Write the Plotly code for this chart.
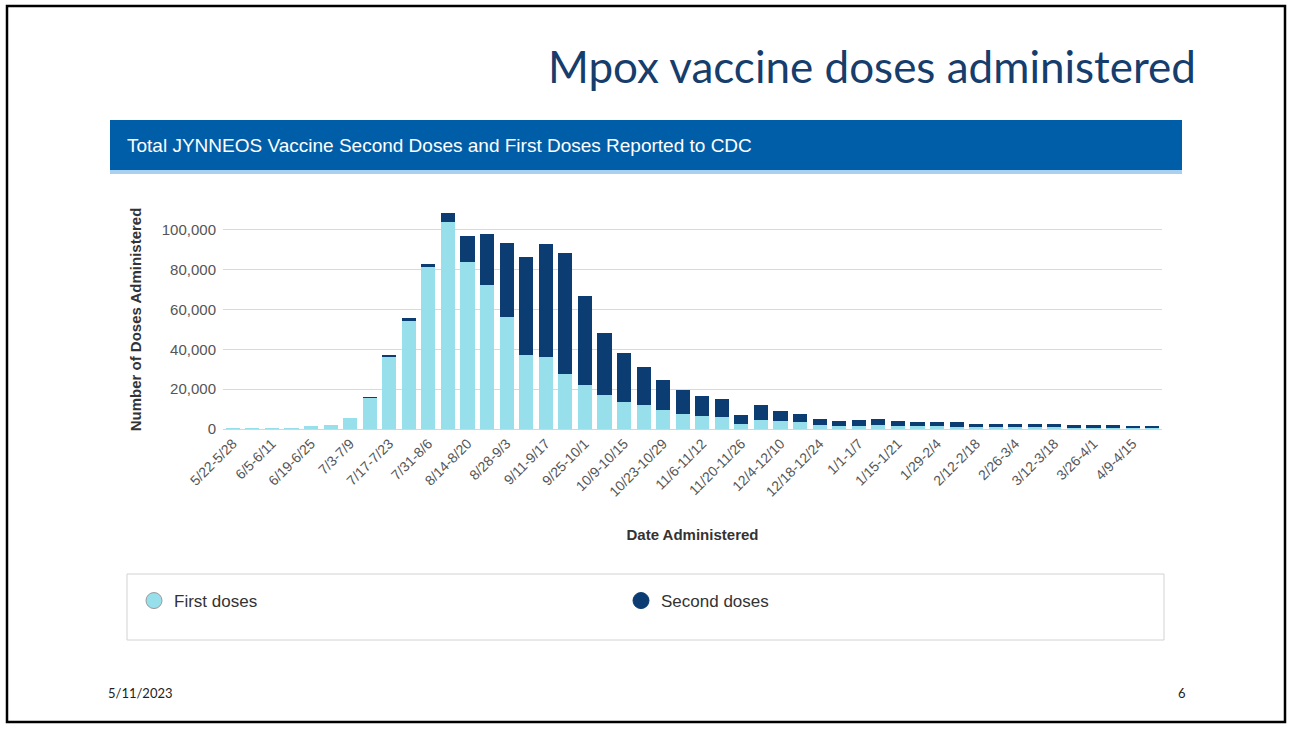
import plotly.graph_objects as go

# ---------------- data ----------------
weeks = [
    "5/22-5/28", "5/29-6/4", "6/5-6/11", "6/12-6/18", "6/19-6/25", "6/26-7/2",
    "7/3-7/9", "7/10-7/16", "7/17-7/23", "7/24-7/30", "7/31-8/6", "8/7-8/13",
    "8/14-8/20", "8/21-8/27", "8/28-9/3", "9/4-9/10", "9/11-9/17", "9/18-9/24",
    "9/25-10/1", "10/2-10/8", "10/9-10/15", "10/16-10/22", "10/23-10/29", "10/30-11/5",
    "11/6-11/12", "11/13-11/19", "11/20-11/26", "11/27-12/3", "12/4-12/10", "12/11-12/17",
    "12/18-12/24", "12/25-12/31", "1/1-1/7", "1/8-1/14", "1/15-1/21", "1/22-1/28",
    "1/29-2/4", "2/5-2/11", "2/12-2/18", "2/19-2/25", "2/26-3/4", "3/5-3/11",
    "3/12-3/18", "3/19-3/25", "3/26-4/1", "4/2-4/8", "4/9-4/15", "4/16-4/22",
]
first_doses = [
    300, 300, 400, 400, 1700, 2200,
    5500, 15900, 36500, 54500, 81300, 104200,
    84100, 72100, 56200, 37100, 36000, 27400,
    21900, 17100, 13700, 12000, 9400, 7700,
    6400, 5900, 2700, 4500, 3900, 3300,
    2200, 1500, 1700, 2200, 1300, 1300,
    1300, 1200, 1100, 1000, 1000, 1000,
    1000, 1000, 1000, 800, 800, 800,
]
second_doses = [
    0, 0, 0, 0, 0, 0,
    0, 100, 500, 1400, 1800, 4500,
    12600, 25700, 37100, 49200, 56800, 61200,
    44700, 30900, 24400, 19100, 15000, 11900,
    10000, 9300, 4300, 7400, 5000, 4400,
    3000, 2700, 2800, 3000, 2700, 2000,
    2000, 2100, 1600, 1300, 1300, 1300,
    1300, 800, 800, 1000, 500, 500,
]
tick_labels = weeks[::2]
y_ticks = [0, 20000, 40000, 60000, 80000, 100000]

# ---------------- layout geometry ----------------
W, H = 1291, 730
L, R, T, B = 223, 129, 210, 301
PW, PH = W - L - R, H - T - B


def px2x(px):
    return (px - L) / PW


def py2y(py):
    return (H - B - py) / PH


C_FIRST = "#97dfeb"
C_SECOND = "#0b3c72"
FONT = "Liberation Sans"

fig = go.Figure()
fig.add_trace(go.Bar(x=weeks, y=first_doses, name="First doses",
                     marker=dict(color=C_FIRST, line=dict(width=0)),
                     showlegend=False))
fig.add_trace(go.Bar(x=weeks, y=second_doses, name="Second doses",
                     marker=dict(color=C_SECOND, line=dict(width=0)),
                     showlegend=False))
# legend entries (circle symbols)
fig.add_trace(go.Scatter(x=[None], y=[None], mode="markers", name="First doses",
                         marker=dict(symbol="circle", size=16, color=C_FIRST,
                                     line=dict(color="#9a9a9a", width=1))))
fig.add_trace(go.Scatter(x=[None], y=[None], mode="markers", name="Second doses",
                         marker=dict(symbol="circle", size=16, color=C_SECOND,
                                     line=dict(color=C_SECOND, width=1))))

shapes = [
    # slide border
    dict(type="rect", xref="paper", yref="paper",
         x0=px2x(7), x1=px2x(1285), y0=py2y(722), y1=py2y(6),
         line=dict(color="#000000", width=2.5), fillcolor="rgba(0,0,0,0)"),
    # header bar
    dict(type="rect", xref="paper", yref="paper",
         x0=px2x(110), x1=px2x(1182), y0=py2y(170), y1=py2y(120),
         line=dict(width=0), fillcolor="#005ea8"),
    dict(type="rect", xref="paper", yref="paper",
         x0=px2x(110), x1=px2x(1182), y0=py2y(174), y1=py2y(170),
         line=dict(width=0), fillcolor="#a9d1ef"),
    # legend box
    dict(type="rect", xref="paper", yref="paper", layer="below",
         x0=px2x(127), x1=px2x(1164), y0=py2y(640), y1=py2y(574),
         line=dict(color="#d2d2d2", width=1), fillcolor="#ffffff"),
]

annotations = [
    dict(text="Total JYNNEOS Vaccine Second Doses and First Doses Reported to CDC",
         xref="paper", yref="paper", x=px2x(125), y=py2y(145),
         xanchor="left", yanchor="middle", showarrow=False,
         font=dict(family=FONT, size=19, color="#ffffff")),
    dict(text="5/11/2023", xref="paper", yref="paper", x=px2x(106), y=py2y(693),
         xanchor="left", yanchor="middle", showarrow=False,
         font=dict(family="Lato", size=13, color="#222222")),
    dict(text="6", xref="paper", yref="paper", x=px2x(1188), y=py2y(693),
         xanchor="right", yanchor="middle", showarrow=False,
         font=dict(family="Lato", size=13, color="#222222")),
]

fig.update_layout(
    width=W, height=H,
    margin=dict(l=L, r=R, t=T, b=B, autoexpand=False),
    paper_bgcolor="#ffffff", plot_bgcolor="#ffffff",
    barmode="stack", bargap=0.28,
    title=dict(text="Mpox vaccine doses administered",
               x=1196 / W, xanchor="right", xref="container",
               y=1 - 68 / H, yanchor="middle", yref="container",
               font=dict(family="Lato", size=44, color="#163d6b")),
    xaxis=dict(
        type="category", range=[-0.5, len(weeks) - 0.5],
        tickmode="array", tickvals=tick_labels, ticktext=tick_labels,
        tickangle=-45, tickfont=dict(family=FONT, size=14, color="#555555"),
        showgrid=False, showline=True, linecolor="#ccd6eb", linewidth=1,
        ticks="", zeroline=False,
        title=dict(text="<b>Date Administered</b>", standoff=30,
                   font=dict(family=FONT, size=15, color="#333333")),
    ),
    yaxis=dict(
        range=[0, 110000], tickvals=y_ticks, tickformat=",",
        tickfont=dict(family=FONT, size=15, color="#555555"),
        showgrid=True, gridcolor="#d9d9d9", gridwidth=1,
        zeroline=False, showline=False, ticks="", ticklabelstandoff=6,
        title=dict(text="<b>Number of Doses Administered</b>", standoff=16,
                   font=dict(family=FONT, size=15, color="#333333")),
    ),
    legend=dict(orientation="h", x=px2x(134), y=py2y(601),
                xanchor="left", yanchor="middle", traceorder="normal",
                entrywidth=442, entrywidthmode="pixels",
                bgcolor="rgba(0,0,0,0)", borderwidth=0,
                font=dict(family=FONT, size=17, color="#333333")),
    shapes=shapes,
    annotations=annotations,
)

fig.write_html("out.html", config={"displayModeBar": False},
               post_script="document.body.style.margin='0';document.body.style.padding='0';")
